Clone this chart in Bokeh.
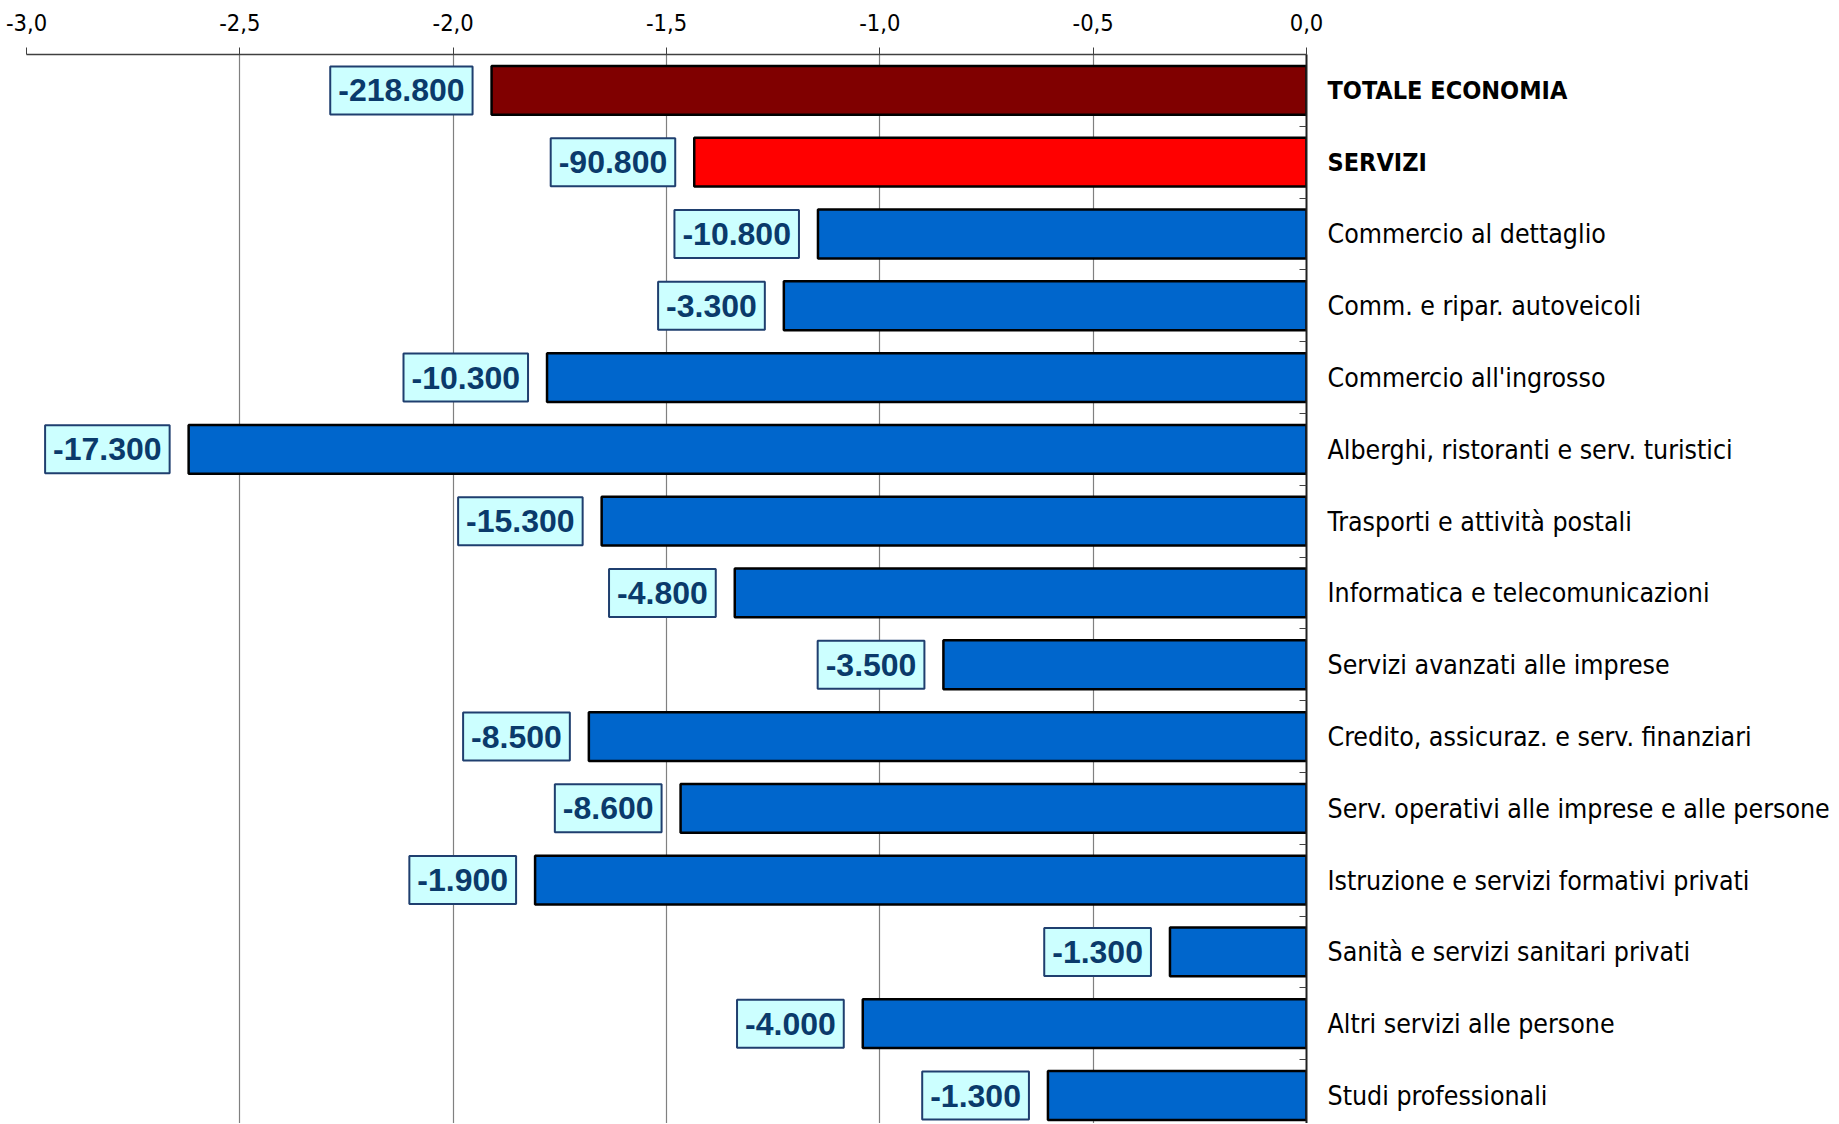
from bokeh.plotting import figure
from bokeh.models import ColumnDataSource, FixedTicker, Range1d
from bokeh.layouts import row
from bokeh.core.properties import value
from bokeh.embed import file_html
from bokeh.resources import INLINE

# ---- data ----
categories = [
    "TOTALE ECONOMIA",
    "SERVIZI",
    "Commercio al dettaglio",
    "Comm. e ripar. autoveicoli",
    "Commercio all'ingrosso",
    "Alberghi, ristoranti e serv. turistici",
    "Trasporti e attività postali",
    "Informatica e telecomunicazioni",
    "Servizi avanzati alle imprese",
    "Credito, assicuraz. e serv. finanziari",
    "Serv. operativi alle imprese e alle persone",
    "Istruzione e servizi formativi privati",
    "Sanità e servizi sanitari privati",
    "Altri servizi alle persone",
    "Studi professionali",
]
pct_change = [-1.91, -1.435, -1.145, -1.225, -1.78, -2.62, -1.652, -1.34,
              -0.851, -1.682, -1.467, -1.808, -0.32, -1.04, -0.606]
abs_change = [-218800, -90800, -10800, -3300, -10300, -17300, -15300, -4800,
              -3500, -8500, -8600, -1900, -1300, -4000, -1300]
x_ticks = [-3.0, -2.5, -2.0, -1.5, -1.0, -0.5, 0.0]
x_tick_labels = ["-3,0", "-2,5", "-2,0", "-1,5", "-1,0", "-0,5", "0,0"]

# ---- styles ----
bar_colors = ["#800000", "#FF0000"] + ["#0066CC"] * (len(categories) - 2)
label_styles = ["bold", "bold"] + ["normal"] * (len(categories) - 2)
label_sizes = ["25px", "25px"] + ["26.5px"] * (len(categories) - 2)

n = len(categories)
rows = list(range(n))
src = ColumnDataSource(dict(
    y=rows,
    v=pct_change,
    zero=[0.0] * n,
    lbl=[f"{a:,}".replace(",", ".") for a in abs_change],
    cat=categories,
    fs=label_styles,
    fsz=label_sizes,
    color=bar_colors,
))

y_range = Range1d(14.39, -0.5)
TOP = 54
H = 1123

p = figure(
    width=1326, height=H,
    x_range=Range1d(-3.0, 0.0),
    y_range=y_range,
    x_axis_location="above", y_axis_location="right",
    output_backend="svg", toolbar_location=None,
    min_border_left=26, min_border_right=20,
    min_border_top=TOP, min_border_bottom=0,
)
p.outline_line_color = None
p.background_fill_color = "white"

# x axis (top)
xa = p.xaxis[0]
xa.ticker = FixedTicker(ticks=x_ticks)
xa.major_label_overrides = {t: s for t, s in zip(x_ticks, x_tick_labels)}
xa.major_tick_out = 7
xa.major_tick_in = 0
xa.minor_tick_out = 0
xa.minor_tick_in = 0
xa.axis_line_color = "#404040"
xa.axis_line_width = 1.5
xa.major_tick_line_color = "#404040"
xa.major_label_standoff = 17
xa.major_label_text_font = "DejaVu Sans Condensed"
xa.major_label_text_font_size = "23.5px"
xa.major_label_text_color = "black"

# y axis (right, at 0)
ya = p.yaxis[0]
ya.ticker = FixedTicker(ticks=[i - 0.5 for i in range(n + 1)])
ya.major_tick_in = 7
ya.major_tick_out = 0
ya.minor_tick_in = 0
ya.minor_tick_out = 0
ya.axis_line_color = "#202020"
ya.axis_line_width = 2
ya.major_tick_line_color = "#404040"
ya.major_label_text_font_size = "0px"
ya.major_label_text_color = None
ya.major_label_standoff = 0

p.xgrid.ticker = FixedTicker(ticks=x_ticks)
p.xgrid.grid_line_color = "#808080"
p.xgrid.grid_line_width = 1.2
p.ygrid.grid_line_color = None

p.hbar(y="y", left="v", right=0, height=0.68, source=src,
       fill_color="color", line_color="black", line_width=2.5)

p.text(x="v", y="y", text="lbl", source=src,
       text_align="right", text_baseline="middle", x_offset=-19,
       text_font=value("Liberation Sans"), text_font_style="bold",
       text_font_size="32px", text_color="#0A3A6B",
       background_fill_color="#CCFFFF", border_line_color="#1F3F6F",
       border_line_width=2, padding=dict(left=8, right=8, top=13, bottom=13))

# category labels panel
q = figure(
    width=510, height=H,
    x_range=Range1d(0, 1), y_range=y_range,
    output_backend="svg", toolbar_location=None,
    min_border_left=0, min_border_right=0,
    min_border_top=TOP, min_border_bottom=0,
)
q.axis.visible = False
q.grid.grid_line_color = None
q.outline_line_color = None
q.text(x="zero", y="y", text="cat", source=src, x_offset=1,
       text_align="left", text_baseline="middle",
       text_font=value("DejaVu Sans Condensed"), text_font_size="fsz",
       text_font_style="fs", text_color="black")

layout = row(p, q, spacing=0)
open("out.html", "w").write(file_html(layout, INLINE))
